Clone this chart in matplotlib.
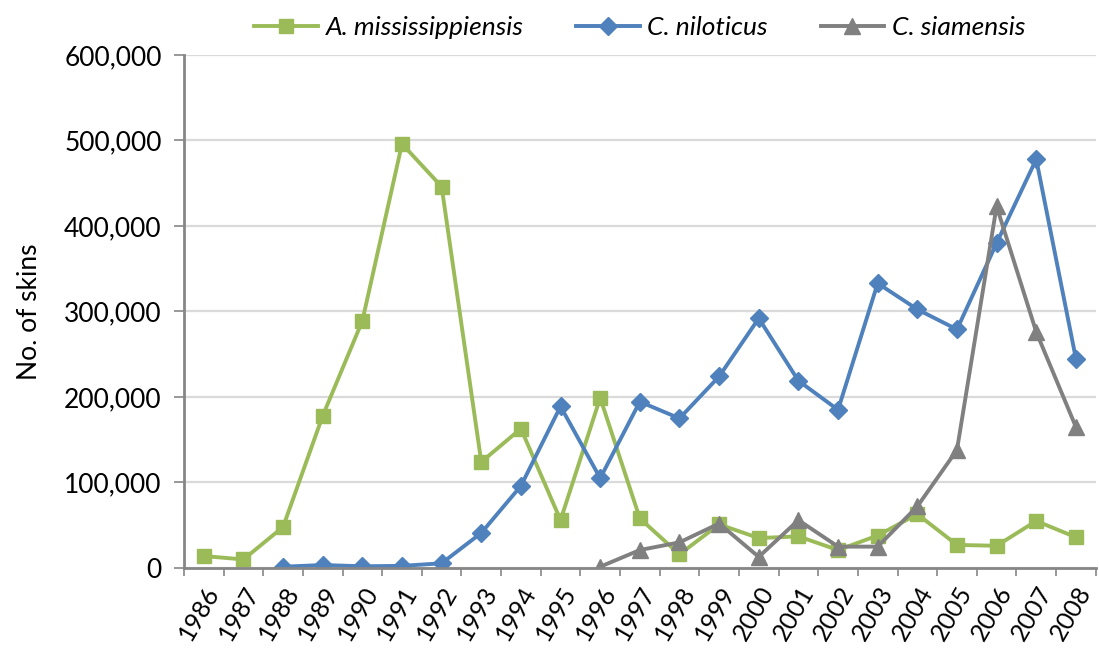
import numpy as np
import matplotlib
matplotlib.use("Agg")
import matplotlib.pyplot as plt
from matplotlib.ticker import FuncFormatter

# data
years = [str(y) for y in range(1986, 2009)]

miss = [14000, 10000, 48000, 178000, 289000, 496000, 446000, 124000, 163000,
        56000, 199000, 58000, 16000, 51000, 35000, 37000, 21000, 38000,
        63000, 27000, 26000, 55000, 36000]

nilo = [None, None, 1500, 3500, 2000, 2500, 5500, 41000, 96000, 189000,
        105000, 194500, 175000, 224000, 292000, 219000, 185000, 333000,
        302500, 279000, 380000, 478000, 245000]

siam = [None] * 10 + [1500, 21000, 30000, 52000, 13000, 56000, 25000, 25000,
                      72000, 138000, 423000, 276000, 165000]

series = [
    ("A. mississippiensis", miss, "#9BBB59", "s", 10),
    ("C. niloticus", nilo, "#4F81BD", "D", 9.5),
    ("C. siamensis", siam, "#808080", "^", 12),
]

plt.rcParams["font.family"] = ["Lato", "DejaVu Sans"]

fig = plt.figure(figsize=(10.99, 6.49), dpi=100)
ax = fig.add_axes([0.1674, 0.1248, 0.8296, 0.7905])

x = np.arange(len(years))
for name, vals, col, mk, ms in series:
    v = np.array([np.nan if a is None else a for a in vals], dtype=float)
    ax.plot(x, v, color=col, lw=2.8, marker=mk, ms=ms, mec=col, mfc=col,
            label=name)

ax.set_xlim(-0.5, len(years) - 0.5)
ax.set_ylim(0, 600000)
ax.set_yticks(np.arange(0, 600001, 100000))
ax.yaxis.set_major_formatter(FuncFormatter(lambda v, p: f"{int(v):,}"))
ax.grid(axis="y", color="#dadada", lw=1.6)
ax.set_axisbelow(True)

ax.set_xticks(x)
ax.set_xticklabels(years, rotation=60, ha="right", rotation_mode="anchor")
ax.set_xticks(np.arange(-0.5, len(years), 1), minor=True)
ax.tick_params(axis="x", which="major", length=0, pad=10, labelsize=18)
ax.tick_params(axis="x", which="minor", length=6, width=1.2, color="#868686")
ax.tick_params(axis="y", length=7, width=1.2, color="#868686", labelsize=19,
               pad=9)

for s in ["top", "right"]:
    ax.spines[s].set_visible(False)
for s in ["left", "bottom"]:
    ax.spines[s].set_color("#868686")
    ax.spines[s].set_linewidth(2)

ax.set_ylabel("No. of skins", fontsize=19, labelpad=16)

leg = ax.legend(loc="lower center", bbox_to_anchor=(0.5, 1.0), ncol=3,
                frameon=False, prop={"style": "italic", "size": 19},
                handlelength=2.4, columnspacing=2.0, handletextpad=0.3,
                borderaxespad=0.2)

fig.savefig("out.png", dpi=100)
